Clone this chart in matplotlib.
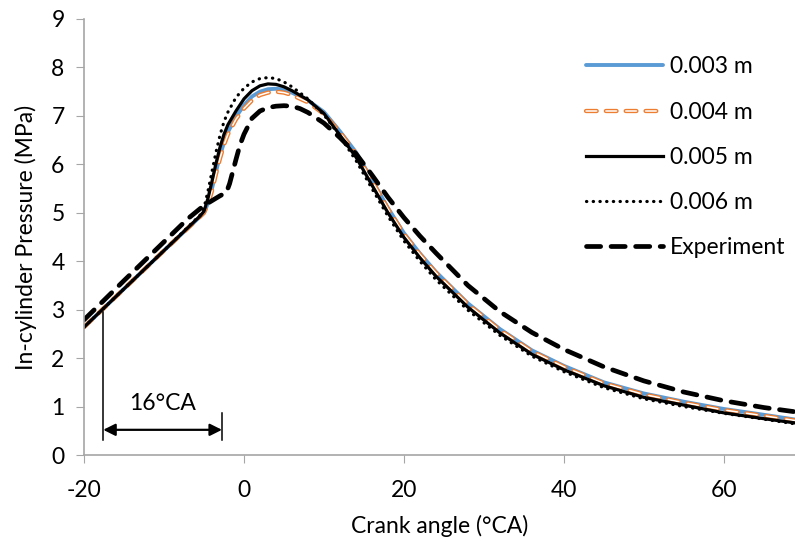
import numpy as np
import matplotlib.pyplot as plt
import matplotlib.patheffects as pe

plt.rcParams['font.family'] = ['Lato', 'DejaVu Sans']
plt.rcParams['axes.unicode_minus'] = False

# crank angle (deg CA) and pressure (MPa)
x_sim = [-20, -15, -10, -5.5, -5, -4.5, -4, -3.5, -3, -2.5, -2, -1, 0, 1, 2, 3, 4, 5, 6,
         8, 10, 12, 14, 16, 18, 20, 22, 24, 28, 32, 36, 40, 45, 50, 55, 60, 65, 69]

p_003 = [2.64, 3.43, 4.22, 4.92, 5.0, 5.2, 5.5, 5.85, 6.18, 6.45, 6.67, 6.98, 7.22, 7.4, 7.5, 7.55, 7.56, 7.54, 7.48,
         7.32, 7.08, 6.68, 6.25, 5.68, 5.1, 4.58, 4.16, 3.78, 3.13, 2.6, 2.16, 1.84, 1.5, 1.27, 1.1, 0.95, 0.83, 0.73]
p_004 = [2.64, 3.43, 4.22, 4.92, 5.0, 5.18, 5.45, 5.8, 6.12, 6.4, 6.62, 6.93, 7.15, 7.32, 7.43, 7.48, 7.5, 7.48, 7.43,
         7.28, 7.04, 6.66, 6.22, 5.66, 5.08, 4.56, 4.14, 3.76, 3.11, 2.58, 2.14, 1.82, 1.48, 1.25, 1.08, 0.93, 0.81, 0.71]
p_005 = [2.64, 3.43, 4.22, 4.93, 5.03, 5.3, 5.65, 6.02, 6.35, 6.62, 6.82, 7.1, 7.35, 7.52, 7.62, 7.66, 7.65, 7.6, 7.52,
         7.33, 7.05, 6.6, 6.15, 5.57, 5.0, 4.49, 4.07, 3.69, 3.05, 2.52, 2.08, 1.76, 1.43, 1.19, 1.03, 0.87, 0.75, 0.66]
p_006 = [2.64, 3.43, 4.22, 4.95, 5.1, 5.45, 5.85, 6.25, 6.6, 6.88, 7.08, 7.38, 7.57, 7.7, 7.77, 7.79, 7.77, 7.7, 7.6,
         7.35, 7.02, 6.58, 6.08, 5.5, 4.93, 4.42, 4.0, 3.62, 2.99, 2.47, 2.04, 1.72, 1.39, 1.16, 1.0, 0.86, 0.74, 0.64]

x_exp = [-20, -15, -10, -7, -5, -4, -3, -2.2, -1.8, -1.4, -1, -0.5, 0, 1, 2, 3, 4, 5, 6, 7, 8,
         10, 12, 14, 16, 18, 20, 22, 24, 28, 32, 36, 40, 45, 50, 55, 60, 65, 69]
p_exp = [2.79, 3.6, 4.4, 4.88, 5.15, 5.25, 5.35, 5.42, 5.6, 5.85, 6.1, 6.4, 6.62, 6.95, 7.1, 7.17, 7.2, 7.21, 7.2, 7.15, 7.07,
         6.85, 6.55, 6.22, 5.78, 5.32, 4.9, 4.52, 4.17, 3.5, 2.96, 2.53, 2.18, 1.82, 1.53, 1.3, 1.12, 0.98, 0.89]

x_ticks = [-20, 0, 20, 40, 60]
y_ticks = list(range(0, 10))

# 16 deg CA marker
mark_left, mark_right = -17.6, -2.75

fs = 16.5

fig = plt.figure(figsize=(7.95, 5.42), dpi=100)
ax = fig.add_axes([0.1057, 0.1605, 0.8943, 0.8045])

ax.plot(x_sim, p_003, color='#5B9BD5', lw=2.8, label='0.003 m', solid_capstyle='round')
ax.plot(x_sim, p_004, color='white', lw=1.1, dashes=(7, 6), dash_capstyle='round', label='0.004 m',
        path_effects=[pe.Stroke(linewidth=3.1, foreground='#ED7D31'), pe.Normal()])
ax.plot(x_sim, p_005, color='black', lw=2.3, label='0.005 m')
ax.plot(x_sim, p_006, color='black', lw=2.3, linestyle=(0, (0.1, 2.0)), dash_capstyle='round',
        label='0.006 m')
ax.plot(x_exp, p_exp, color='black', lw=3.4, dashes=(3.0, 2.2), dash_capstyle='round',
        label='Experiment')

# annotation
ax.plot([mark_left, mark_left], [0.31, 2.95], color='black', lw=1.1)
ax.plot([mark_right, mark_right], [0.31, 0.87], color='black', lw=1.1)
ax.annotate('', xy=(mark_left, 0.52), xytext=(mark_right, 0.52),
            arrowprops=dict(arrowstyle='<|-|>', color='black', lw=1.6, mutation_scale=18,
                            shrinkA=0, shrinkB=0))
ax.text((mark_left + mark_right) / 2, 1.07, '16°CA', ha='center', va='center', fontsize=fs)

ax.set_xlim(-20, 68.9)
ax.set_ylim(0, 9)
ax.set_xticks(x_ticks)
ax.set_yticks(y_ticks)
ax.tick_params(axis='both', direction='out', length=6, color='#A6A6A6', labelsize=fs, pad=8)
ax.tick_params(axis='x', pad=12)
for s in ['top', 'right']:
    ax.spines[s].set_visible(False)
for s in ['left', 'bottom']:
    ax.spines[s].set_color('#A6A6A6')
    ax.spines[s].set_linewidth(1.2)

ax.set_xlabel('Crank angle (°CA)', fontsize=fs, labelpad=10)
ax.set_ylabel('In-cylinder Pressure (MPa)', fontsize=fs, labelpad=10)

ax.legend(loc='upper right', bbox_to_anchor=(1.0, 0.935), frameon=False, fontsize=fs,
          handlelength=3.4, handletextpad=0.3, labelspacing=1.05, borderaxespad=0)

fig.savefig('out.png', dpi=100)
